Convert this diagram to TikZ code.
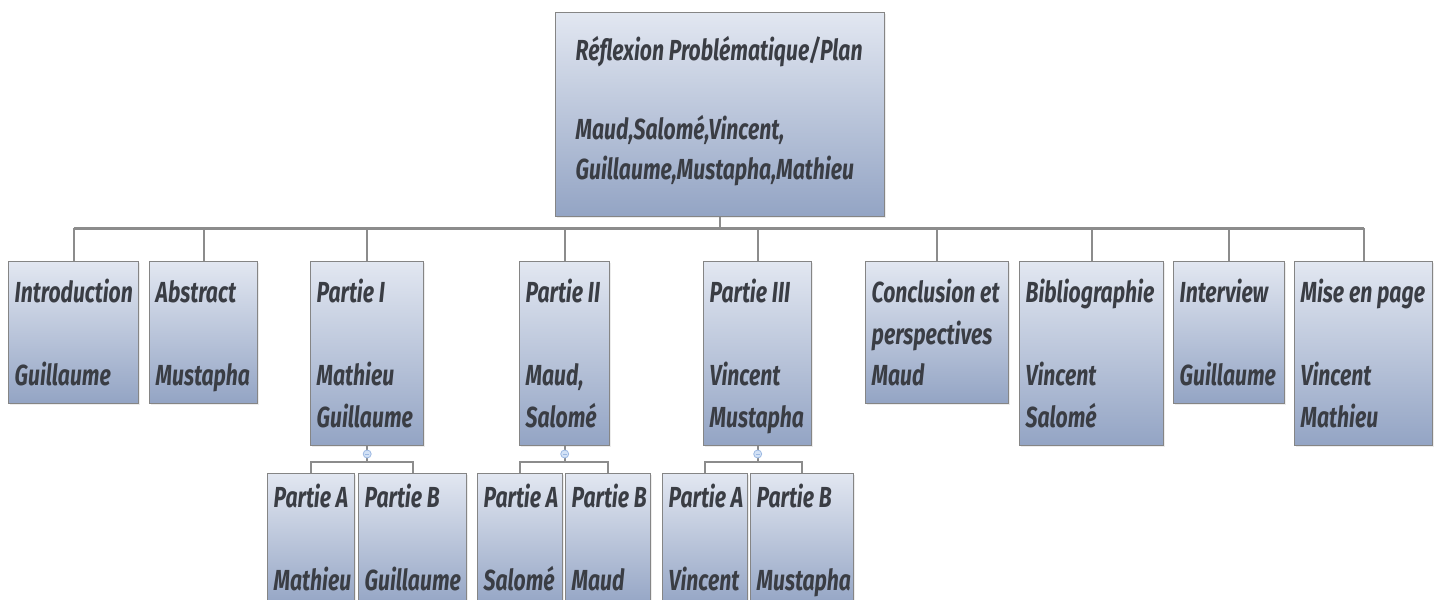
\documentclass[tikz,border=0pt]{standalone}
\usepackage{fontspec}
\newfontfamily\boitefont[FakeStretch=0.73]{Fira Sans}
\usetikzlibrary{shadows}

\definecolor{boxtop}{HTML}{E2E7F1}
\definecolor{boxbot}{HTML}{93A4C4}
\definecolor{boxline}{HTML}{858585}
\definecolor{txtcol}{HTML}{3A3D44}
\definecolor{lienc}{HTML}{8C8C8C}
\definecolor{repl}{HTML}{D3E2F6}
\definecolor{repld}{HTML}{9DB9E2}

\tikzset{
  boite/.style={draw=boxline, line width=0.7pt, top color=boxtop, bottom color=boxbot,
    anchor=north west, inner xsep=3pt, inner ysep=0pt, text=txtcol,
    drop shadow={opacity=0.15, shadow xshift=0.8pt, shadow yshift=-0.8pt},
    font=\boitefont\bfseries\itshape\fontsize{14.5}{20.75}\selectfont},
  lien/.style={draw=lienc, line width=1pt},
  bus/.style={draw=lienc, line width=1.5pt},
  replier/.style={circle, draw=repld, fill=repl, line width=0.4pt, inner sep=0pt,
    minimum size=4pt,
    path picture={\draw[repld, line width=0.4pt] ([xshift=-1pt]path picture bounding box.center)
      -- ([xshift=1pt]path picture bounding box.center);}}
}

% \boite[premiere ligne]{nom}{x}{y}{largeur}{hauteur}{texte}  (en px)
\newcommand{\boite}[7][20.5pt]{%
  \node[boite, inner xsep=0pt, minimum width=#5*0.5pt, minimum height=#6*0.5pt] (#2) at (#3,#4)
    {\hspace{3pt}\parbox[b][\dimexpr#6pt/2\relax][t]{\dimexpr#5pt/2-3pt\relax}{\rule{0pt}{#1}#7}};}

\begin{document}
\begin{tikzpicture}[x=0.5pt, y=-0.5pt]
  \useasboundingbox (0,0) rectangle (1442,600);
  \clip (0,0) rectangle (1442,600);

  % racine
  \node[boite, inner xsep=10pt] (plan) at (555,12)
    {\parbox[b][102pt][t]{144.5pt}{\rule{0pt}{24pt}R\'eflexion Probl\'ematique/Plan\\~\\[-2pt]
      Maud,Salom\'e,Vincent,\\[-1pt]Guillaume,Mustapha,Mathieu}};

  % premier niveau
  \boite{intro}{8}{261}{130}{142}{Introduction\\~\\Guillaume}
  \boite{abstract}{149}{261}{108}{142}{Abstract\\~\\Mustapha}
  \boite{p1}{310}{261}{113}{184}{Partie I\\~\\Mathieu\\Guillaume}
  \boite{p2}{519}{261}{90}{184}{Partie II\\~\\Maud,\\Salom\'e}
  \boite{p3}{703}{261}{108}{184}{Partie III\\~\\Vincent\\Mustapha}
  \boite{concl}{865}{261}{143}{142}{Conclusion et\\perspectives\\Maud}
  \boite{biblio}{1019}{261}{144}{184}{Bibliographie\\~\\Vincent\\Salom\'e}
  \boite{interview}{1173}{261}{111}{142}{Interview\\~\\Guillaume}
  \boite{mise}{1294}{261}{138}{184}{Mise en page\\~\\Vincent\\Mathieu}

  % second niveau
  \boite[17pt]{p1a}{267}{473}{87}{134}{Partie A\\~\\Mathieu}
  \boite[17pt]{p1b}{358}{473}{108}{134}{Partie B\\~\\Guillaume}
  \boite[17pt]{p2a}{477}{473}{85}{134}{Partie A\\~\\Salom\'e}
  \boite[17pt]{p2b}{565}{473}{85}{134}{Partie B\\~\\Maud}
  \boite[17pt]{p3a}{662}{473}{85}{134}{Partie A\\~\\Vincent}
  \boite[17pt]{p3b}{750}{473}{103}{134}{Partie B\\~\\Mustapha}

  % liaisons
  \coordinate (barre) at (0,228);
  \draw[lien] (plan.south) -- (plan.south |- barre);
  \draw[bus] (intro.north |- barre) -- (mise.north |- barre);
  \foreach \n in {intro,abstract,p1,p2,p3,concl,biblio,interview,mise}
    \draw[lien] (\n.north) -- (\n.north |- barre);

  \coordinate (sousbarre) at (0,462);
  \foreach \p in {p1,p2,p3} {
    \draw[lien] (\p.south) -- (\p.south |- sousbarre);
    \draw[lien] (\p a.north) |- (\p.south |- sousbarre) -| (\p b.north);
    \node[replier] (\p r) at (\p.south |- 0,454) {};
  }
\end{tikzpicture}
\end{document}
